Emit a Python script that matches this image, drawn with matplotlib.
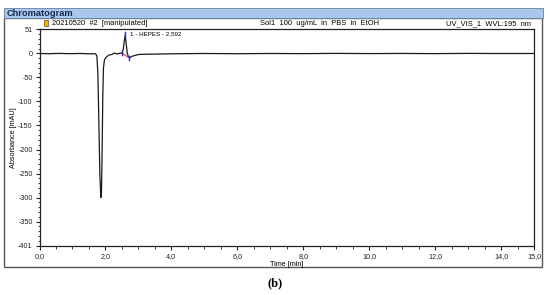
import matplotlib
matplotlib.use("Agg")
import matplotlib.pyplot as plt
from matplotlib.patches import Rectangle

plt.rcParams['font.family'] = ['Liberation Sans', 'DejaVu Sans']

# ---- data ----
time_min = [0.0, 0.3, 0.6, 0.9, 1.2, 1.5, 1.70, 1.74, 1.77, 1.80, 1.83, 1.86, 1.88,
            1.90, 1.92, 1.94, 1.97, 2.00, 2.05, 2.12, 2.20, 2.28, 2.34, 2.40, 2.46,
            2.50, 2.54, 2.57, 2.60, 2.63, 2.66, 2.70, 2.74, 2.80, 2.90, 3.02, 3.3,
            3.7, 4.2, 5.0, 6.0, 7.0, 8.0, 9.0, 10.0, 11.0, 12.0, 13.0, 14.0, 15.0]
absorbance = [0.0, -0.5, 0.2, -0.4, 0.0, -0.6, -0.5, -5, -40, -140, -250, -300, -290,
              -200, -90, -30, -14, -10, -6, -3, -2, 1, -1, 0, 0.5,
              1, 8, 25, 38, 20, 2, -8, -9, -6, -4, -2, -1.5,
              -1, -0.5, 0, -0.5, 0, -0.3, 0.2, -0.2, 0.1, -0.3, 0.2, -0.1, 0.0]
peak_label = "1 - HEPES - 2,592"
peak_start = (2.50, 1.0)
peak_apex = (2.60, 38.0)
peak_end = (2.72, -9.0)
y_major = [51, 0, -50, -100, -150, -200, -250, -300, -350, -401]
x_major = [0, 2, 4, 6, 8, 10, 12, 14, 15]
x_labels = ["0,0", "2,0", "4,0", "6,0", "8,0", "10,0", "12,0", "14,0", "15,0"]

W, H = 550, 295
fig = plt.figure(figsize=(W / 100, H / 100), dpi=100)

def fx(px):
    return px / W

def fy(py):
    return 1 - py / H

# outer panel frame
fig.add_artist(Rectangle((fx(4), fy(267)), fx(542) - fx(4), fy(18) - fy(267),
                         transform=fig.transFigure, facecolor='white',
                         edgecolor='#555555', lw=1.0, zorder=0))
# title bar
fig.add_artist(Rectangle((fx(4), fy(18)), fx(543) - fx(4), fy(8) - fy(18),
                         transform=fig.transFigure, facecolor='#a9c8ee',
                         edgecolor='#6a7f99', lw=0.6, zorder=1))
fig.text(fx(7), fy(13.5), "Chromatogram", fontsize=6.7, fontweight='bold',
         color='#1a2a4a', va='center', ha='left')

# header line
fig.add_artist(Rectangle((fx(44), fy(26)), fx(4), fy(20) - fy(26),
                         transform=fig.transFigure, facecolor='#e8b400',
                         edgecolor='#333333', lw=0.4))
fig.text(fx(52), fy(23.5), "20210520  #2  [manipulated]", fontsize=5.4, va='center', ha='left')
fig.text(fx(320), fy(23.5), "Sol1  100  ug/mL  in  PBS  in  EtOH", fontsize=5.4, va='center', ha='center')
fig.text(fx(531), fy(23.5), "UV_VIS_1  WVL:195  nm", fontsize=5.4, va='center', ha='right')

ax = fig.add_axes([fx(39.5), fy(246), fx(534) - fx(39.5), fy(29) - fy(246)])
ax.plot(time_min, absorbance, color='#1a1a1a', lw=0.9, zorder=3)

# peak integration marks
ax.plot([peak_start[0], peak_end[0]], [peak_start[1], peak_end[1]], color='#e0303a', lw=0.8, zorder=4)
for px_, py_ in (peak_start, peak_end):
    ax.plot([px_, px_], [py_ - 4, py_ + 4], color='#2030c0', lw=1.0, zorder=5)
ax.plot([peak_apex[0], peak_apex[0]], [peak_apex[1] - 2, peak_apex[1] + 6], color='#2030c0', lw=1.0, zorder=5)
ax.text(2.75, 42, peak_label, fontsize=4.5, va='center', ha='left')

ax.set_xlim(0, 15)
ax.set_ylim(-401, 51)
ax.set_yticks(y_major)
ax.set_yticklabels([str(v) for v in y_major], fontsize=5.2)
ax.set_yticks(list(range(-400, 51, 10)), minor=True)
ax.set_xticks(x_major)
ax.set_xticklabels(x_labels, fontsize=5.2)
ax.set_xticks([v * 0.5 for v in range(0, 31)], minor=True)
ax.tick_params(axis='both', which='major', length=3, width=0.8, pad=2, colors='#222222')
ax.tick_params(axis='both', which='minor', length=1.8, width=0.6, colors='#222222')
for s in ax.spines.values():
    s.set_linewidth(0.9)
    s.set_color('#222222')
ax.set_xlabel("Time [min]", fontsize=5.2, labelpad=0.5)
ax.set_ylabel("Absorbance [mAU]", fontsize=5.2, labelpad=1)

fig.text(0.5, fy(283), "(b)", fontsize=9, fontweight='bold', family='Liberation Serif',
         ha='center', va='center')

fig.savefig("out.png", dpi=100)
